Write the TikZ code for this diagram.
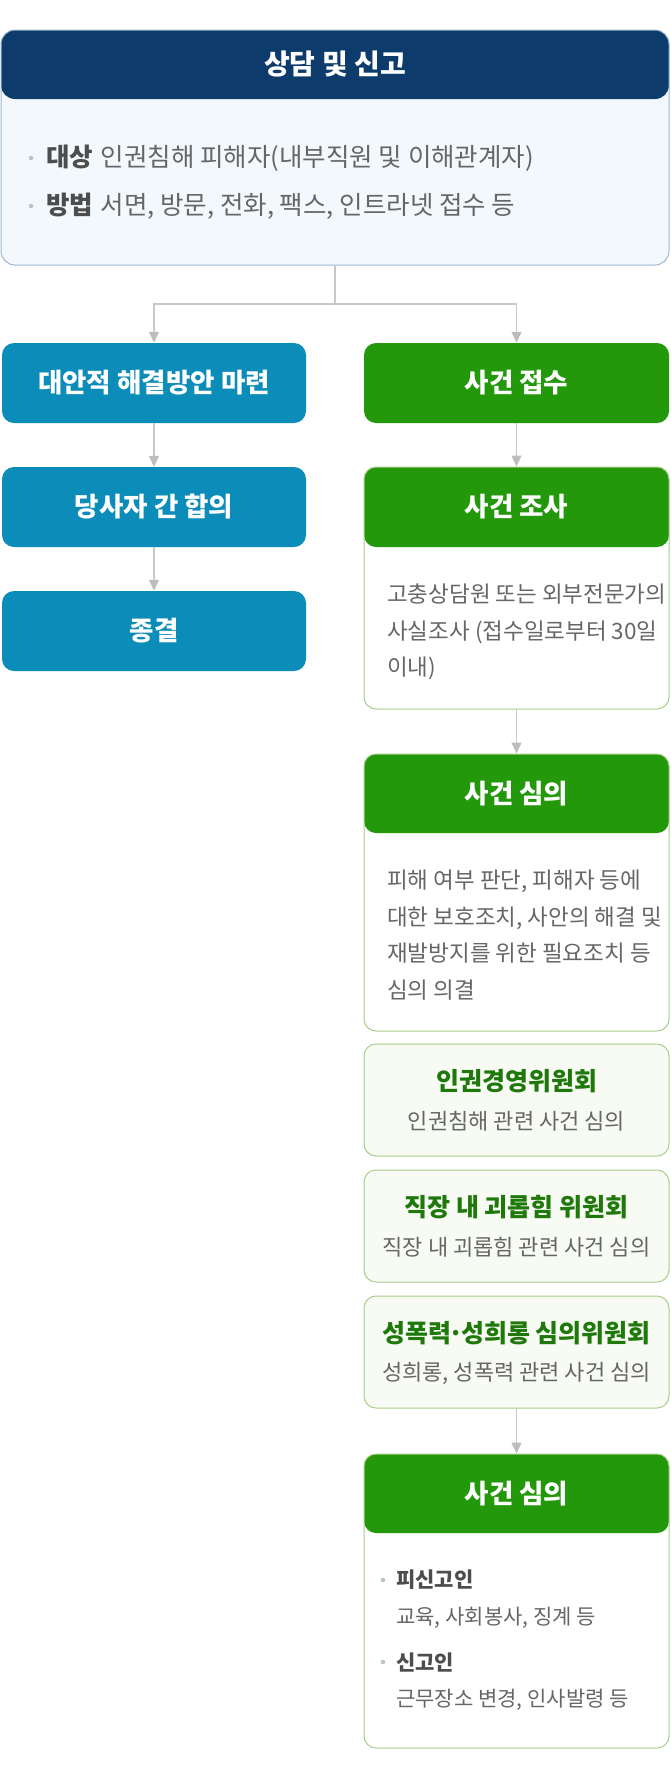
\documentclass[tikz,border=0pt]{standalone}
\usepackage{fontspec}
\setmainfont{Noto Sans CJK KR}
\usetikzlibrary{arrows.meta}
\definecolor{navy}{HTML}{0D3C6C}
\definecolor{topfill}{HTML}{F3F8FD}
\definecolor{topborder}{HTML}{9DB6D2}
\definecolor{blueone}{HTML}{0C8CB8}
\definecolor{greenone}{HTML}{23980B}
\definecolor{gborder}{HTML}{A9CD8A}
\definecolor{gfill}{HTML}{F7FBF3}
\definecolor{gtext}{HTML}{1E780A}
\definecolor{txt}{HTML}{666666}
\definecolor{dark}{HTML}{4D4D4D}
\definecolor{linec}{HTML}{C8C8C8}
\definecolor{tipc}{HTML}{BDBDBD}
\definecolor{dotc}{HTML}{B5C3CC}
\begin{document}
\begin{tikzpicture}[x=1pt,y=-1pt,
 rbox/.style={rectangle, rounded corners=12pt, inner sep=0pt},
 bluebox/.style={rbox, fill=blueone, minimum width=304pt, minimum height=80pt},
 greenbox/.style={rbox, fill=greenone, minimum width=305pt, minimum height=80pt},
 card/.style={rbox, draw=gborder, line width=1pt, fill=white, minimum width=305pt},
 committee/.style={rbox, draw=gborder, line width=1pt, fill=gfill, minimum width=305pt, minimum height=112pt},
 hdr/.style={path picture={\fill[greenone] (path picture bounding box.north west) rectangle ([yshift=-#1]path picture bounding box.north east);}},
 lab/.style={text=white, font=\bfseries\fontsize{26.5}{30}\selectfont},
 bodytxt/.style={text=txt, font=\fontsize{22.5}{36.5}\selectfont, align=left, inner sep=0pt},
 ctitle/.style={text=gtext, font=\bfseries\fontsize{25}{28}\selectfont, inner sep=0pt},
 csub/.style={text=txt, font=\fontsize{22}{25}\selectfont, inner sep=0pt},
 bul/.style={circle, fill=dotc, inner sep=0pt, minimum size=4.5pt},
 cline/.style={draw=linec, line width=1.2pt},
 conn/.style={cline, -{Triangle[width=10pt,length=11pt,fill=tipc,color=tipc]}},
]
\useasboundingbox (0,0) rectangle (670,1780);

% top box
\node[rbox, rounded corners=14pt, draw=topborder, line width=1pt, fill=topfill,
  minimum width=668pt, minimum height=235pt,
  path picture={\fill[navy] (path picture bounding box.north west) rectangle ([yshift=-69pt]path picture bounding box.north east);}]
  (top) at (335,147.5) {};
\node[text=white, font=\bfseries\fontsize{28}{30}\selectfont, inner sep=0pt] (toptitle) at (335,64.5) {상담 및 신고};
\node[bul] (tb1) at (31,158) {};
\node[anchor=west, inner sep=0pt, text=txt, font=\fontsize{25.5}{28}\selectfont] (tt1) at (46,158) {{\bfseries\color{dark}대상}\hspace{0.3em}인권침해 피해자(내부직원 및 이해관계자)};
\node[bul] (tb2) at (31,206) {};
\node[anchor=west, inner sep=0pt, text=txt, font=\fontsize{25.5}{28}\selectfont] (tt2) at (46,206) {{\bfseries\color{dark}방법}\hspace{0.3em}서면, 방문, 전화, 팩스, 인트라넷 접수 등};

% left column
\node[bluebox, lab] (alt) at (154,383) {대안적 해결방안 마련};
\node[bluebox, lab] (agree) at (154,507) {당사자 간 합의};
\node[bluebox, lab] (close) at (154,631) {종결};

% right column
\node[greenbox, lab] (recv) at (516.5,383) {사건 접수};

\node[card, hdr=80pt, minimum height=242pt] (inv) at (516.5,588) {};
\node[lab, inner sep=0pt] (invt) at (516.5,507) {사건 조사};
\node[bodytxt, anchor=west] (invb) at (387,632) {고충상담원 또는 외부전문가의\\사실조사 (접수일로부터 30일\\이내)};

\node[card, hdr=79pt, minimum height=277pt] (revone) at (516.5,892.5) {};
\node[lab, inner sep=0pt] (revonet) at (516.5,793.5) {사건 심의};
\node[bodytxt, anchor=west] (revoneb) at (387,935) {피해 여부 판단, 피해자 등에\\대한 보호조치, 사안의 해결 및\\재발방지를 위한 필요조치 등\\심의 의결};

\node[committee] (hr) at (516.5,1100) {};
\node[ctitle] (hrt) at (516.5,1081) {인권경영위원회};
\node[csub] (hrs) at (516.5,1121) {인권침해 관련 사건 심의};

\node[committee] (work) at (516.5,1226) {};
\node[ctitle] (workt) at (516.5,1207) {직장 내 괴롭힘 위원회};
\node[csub] (works) at (516.5,1247) {직장 내 괴롭힘 관련 사건 심의};

\node[committee] (sexc) at (516.5,1352) {};
\node[ctitle] (sexct) at (516.5,1333) {성폭력\kern-0.1em·\kern-0.1em성희롱 심의위원회};
\node[csub] (sexcs) at (516.5,1373) {성희롱, 성폭력 관련 사건 심의};

\node[card, hdr=79pt, minimum height=294pt] (revtwo) at (516.5,1601) {};
\node[lab, inner sep=0pt] (revtwot) at (516.5,1493.5) {사건 심의};
\node[bul] (rb1) at (383,1580) {};
\node[anchor=west, inner sep=0pt, text=dark, font=\bfseries\fontsize{21}{25}\selectfont] (rl1) at (396,1580) {피신고인};
\node[anchor=west, inner sep=0pt, text=txt, font=\fontsize{21}{25}\selectfont] (rs1) at (396,1618) {교육, 사회봉사, 징계 등};
\node[bul] (rb2) at (383,1662) {};
\node[anchor=west, inner sep=0pt, text=dark, font=\bfseries\fontsize{21}{25}\selectfont] (rl2) at (396,1662) {신고인};
\node[anchor=west, inner sep=0pt, text=txt, font=\fontsize{21}{25}\selectfont] (rs2) at (396,1700) {근무장소 변경, 인사발령 등};

% connectors
\coordinate (split) at (335,304);
\draw[cline] (top.south) -- (split);
\draw[conn] (split) -| (alt.north);
\draw[conn] (split) -| (recv.north);
\draw[conn] (alt.south) -- (agree.north);
\draw[conn] (agree.south) -- (close.north);
\draw[conn] (recv.south) -- (inv.north);
\draw[conn] (inv.south) -- (revone.north);
\draw[conn] (sexc.south) -- (revtwo.north);
\end{tikzpicture}
\end{document}
